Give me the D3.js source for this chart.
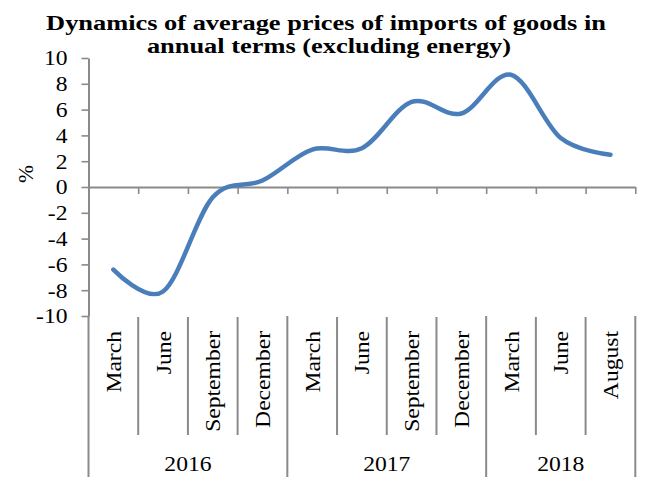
<!DOCTYPE html>
<html>
<head>
<meta charset="utf-8">
<script src="https://cdn.jsdelivr.net/npm/d3@7"></script>
<style>
  html, body { margin: 0; padding: 0; background: #fff; }
  svg { display: block; }
  text { font-family: "Liberation Serif", "Times New Roman", serif; fill: #000; }
</style>
</head>
<body>
<svg id="chart" width="647" height="477"></svg>
<script>
// Year-on-year change of average import prices, % (energy excluded)
const months = ["March", "June", "September", "December",
                "March", "June", "September", "December",
                "March", "June", "August"];
const years = ["2016", "2017", "2018"];
const yearSpans = [4, 4, 3];          // number of month slots in each year group
const values = [-6.4, -8.1, -0.8, 0.5, 2.9, 3.0, 6.6, 5.7, 8.7, 3.8, 2.5];
const yTicks = [-10, -8, -6, -4, -2, 0, 2, 4, 6, 8, 10];
const titleLines = ["Dynamics of average prices of imports of goods in",
                    "annual terms (excluding energy)"];

const svg = d3.select("#chart");
const plotLeft = 88.5, plotRight = 635.3, plotTop = 58, plotBottom = 316;
const axisColor = "#8a8a8a";
const stretch = 1.18;   // glyphs are drawn slightly wide

const x = d3.scaleBand().domain(d3.range(months.length)).range([plotLeft, plotRight]);
const xEdge = d3.scaleLinear().domain([0, months.length]).range([plotLeft, plotRight]);
const y = d3.scaleLinear().domain([-10, 10]).range([plotBottom, plotTop]);

// Title
svg.append("g").selectAll("text")
  .data(titleLines)
  .join("text")
  .attr("text-anchor", "middle")
  .attr("font-weight", "bold")
  .attr("font-size", 22)
  .attr("transform", (d, i) => `translate(${i === 0 ? 326 : 329},${i === 0 ? 29.5 : 53})scale(1.2,1)`)
  .text(d => d);

// Value axis
const yAxis = svg.append("g")
  .attr("transform", `translate(${plotLeft},0)`)
  .call(d3.axisLeft(y).tickValues(yTicks).tickSize(7).tickSizeOuter(0).tickFormat(d => String(d)));
yAxis.select(".domain").attr("stroke", axisColor).attr("stroke-width", 2);
yAxis.selectAll(".tick line").attr("stroke", axisColor).attr("stroke-width", 1.6);
yAxis.selectAll(".tick text")
  .attr("x", null).attr("dy", "0.34em")
  .attr("font-size", 20)
  .attr("fill", "#000")
  .attr("transform", `translate(-21,0)scale(${stretch},1)`);

// Axis title
svg.append("text")
  .attr("transform", `translate(33,174)rotate(-90)scale(1.08,1)`)
  .attr("text-anchor", "middle")
  .attr("font-size", 20)
  .text("%");

// Category axis along zero
const xAxis = svg.append("g")
  .attr("transform", `translate(0,${y(0)})`)
  .call(d3.axisBottom(xEdge).tickValues(d3.range(1, months.length + 1)).tickSize(7).tickSizeOuter(0).tickFormat(""));
xAxis.select(".domain").attr("stroke", axisColor).attr("stroke-width", 2);
xAxis.selectAll(".tick line").attr("stroke", axisColor).attr("stroke-width", 1.6);

// Grouping lines under the plot
const yearEdges = [0];
yearSpans.forEach(s => yearEdges.push(yearEdges[yearEdges.length - 1] + s));
const monthEdges = d3.range(1, months.length).filter(i => !yearEdges.includes(i));

svg.append("g").selectAll("line")
  .data(monthEdges)
  .join("line")
  .attr("x1", d => xEdge(d)).attr("x2", d => xEdge(d))
  .attr("y1", 317).attr("y2", 435)
  .attr("stroke", axisColor).attr("stroke-width", 2);

svg.append("g").selectAll("line")
  .data(yearEdges)
  .join("line")
  .attr("x1", d => xEdge(d)).attr("x2", d => xEdge(d))
  .attr("y1", plotBottom).attr("y2", 477)
  .attr("stroke", axisColor).attr("stroke-width", 2);

// Month labels, rotated
svg.append("g").selectAll("text")
  .data(months)
  .join("text")
  .attr("text-anchor", "end")
  .attr("font-size", 20)
  .attr("transform", (d, i) => `translate(${x(i) + x.bandwidth() / 2 + 7.5},331)rotate(-90)scale(${stretch},1)`)
  .text(d => d);

// Year labels
svg.append("g").selectAll("text")
  .data(years)
  .join("text")
  .attr("text-anchor", "middle")
  .attr("font-size", 20)
  .attr("transform", (d, i) => `translate(${(xEdge(yearEdges[i]) + xEdge(yearEdges[i + 1])) / 2},470.5)scale(${stretch},1)`)
  .text(d => d);

// Smoothed series line
const line = d3.line()
  .x((d, i) => x(i) + x.bandwidth() / 2)
  .y(d => y(d))
  .curve(d3.curveCardinal.tension(0));

svg.append("path")
  .datum(values)
  .attr("d", line)
  .attr("fill", "none")
  .attr("stroke", "#4a7ebb")
  .attr("stroke-width", 4.5)
  .attr("stroke-linecap", "round")
  .attr("stroke-linejoin", "round");
</script>
</body>
</html>
